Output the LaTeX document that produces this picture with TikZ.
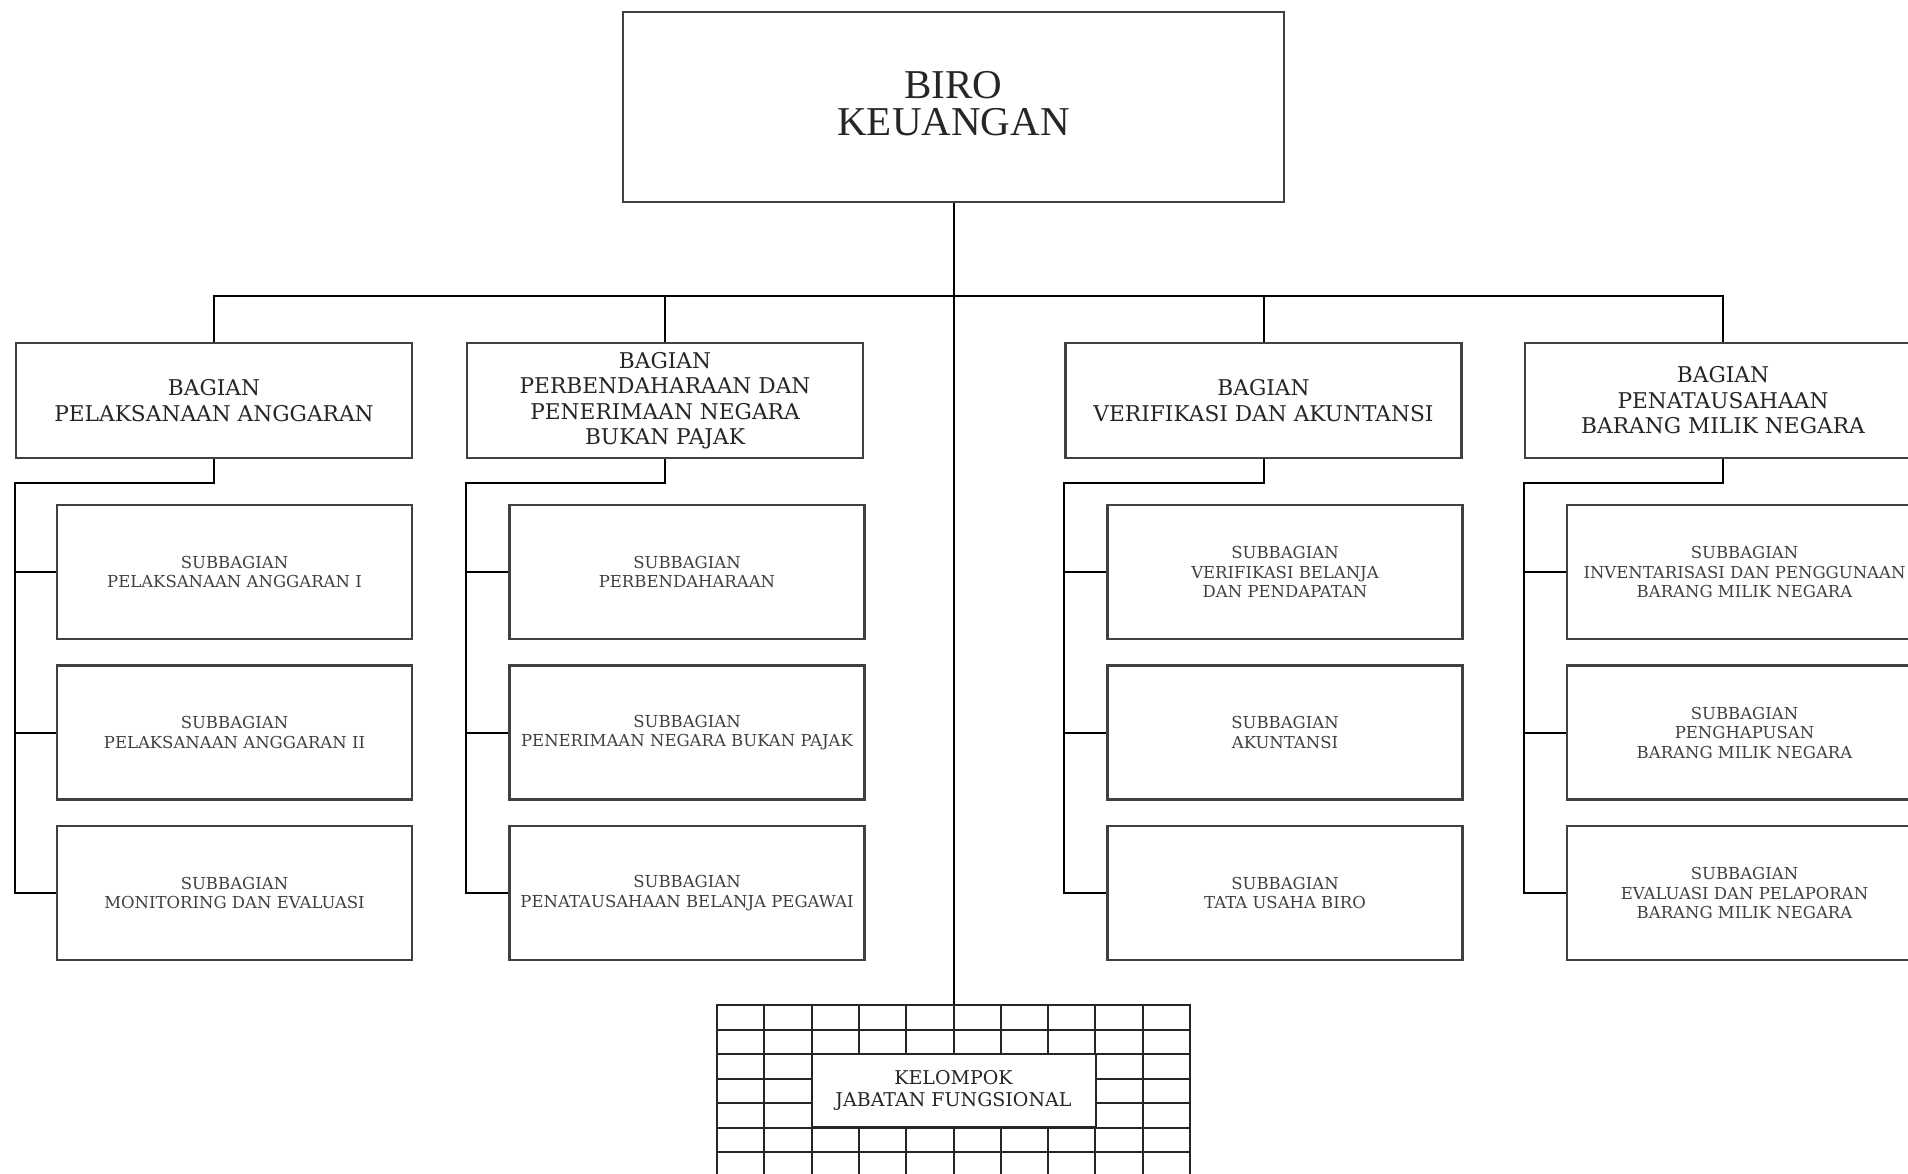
\documentclass[tikz,border=0pt]{standalone}
\usepackage{fontspec}
\setmainfont{DejaVu Serif}
\newfontfamily\titlefont{Liberation Serif}
\begin{document}
\begin{tikzpicture}[x=1pt,y=-1pt,
  box/.style={draw=black!75, line width=2.5pt, fill=white, align=center, inner sep=0pt, text=black!85},
  topbox/.style={box, minimum width=661pt, minimum height=190pt, font=\titlefont\fontsize{41}{37}\selectfont, text depth=8pt},
  bagbox/.style={box, minimum width=396pt, minimum height=115pt, font=\fontsize{21.7}{25.5}\selectfont},
  subbox/.style={box, minimum width=355pt, minimum height=134pt, font=\fontsize{16.5}{19.5}\selectfont, text=black!75},
  conn/.style={draw=black, line width=2pt},
  gridline/.style={draw=black!85, line width=2pt}]
\useasboundingbox (0,0) rectangle (1908,1173);
\fill[white] (0,0) rectangle (1908,1173);
\begin{scope}
\clip (0,0) rectangle (1908,1173);
% top
\node[topbox] (top) at (953.5,107) {BIRO\\KEUANGAN};
% bagian
\node[bagbox] (b1) at (214,400.5) {BAGIAN\\PELAKSANAAN ANGGARAN};
\node[bagbox] (b2) at (665,400.5) {BAGIAN\\PERBENDAHARAAN DAN\\PENERIMAAN NEGARA\\BUKAN PAJAK};
\node[bagbox] (b3) at (1263.5,400.5) {BAGIAN\\VERIFIKASI DAN AKUNTANSI};
\node[bagbox] (b4) at (1723,400.5) {BAGIAN\\PENATAUSAHAAN\\BARANG MILIK NEGARA};
% subbagian col 1
\node[subbox] (s11) at (234.5,572) {SUBBAGIAN\\PELAKSANAAN ANGGARAN I};
\node[subbox] (s12) at (234.5,732.5) {SUBBAGIAN\\PELAKSANAAN ANGGARAN II};
\node[subbox] (s13) at (234.5,893) {SUBBAGIAN\\MONITORING DAN EVALUASI};
% col 2
\node[subbox] (s21) at (687,572) {SUBBAGIAN\\PERBENDAHARAAN};
\node[subbox] (s22) at (687,732.5) {SUBBAGIAN\\PENERIMAAN NEGARA BUKAN PAJAK};
\node[subbox] (s23) at (687,893) {SUBBAGIAN\\PENATAUSAHAAN BELANJA PEGAWAI};
% col 3
\node[subbox] (s31) at (1285,572) {SUBBAGIAN\\VERIFIKASI BELANJA\\DAN PENDAPATAN};
\node[subbox] (s32) at (1285,732.5) {SUBBAGIAN\\AKUNTANSI};
\node[subbox] (s33) at (1285,893) {SUBBAGIAN\\TATA USAHA BIRO};
% col 4
\node[subbox] (s41) at (1744.5,572) {SUBBAGIAN\\INVENTARISASI DAN PENGGUNAAN\\BARANG MILIK NEGARA};
\node[subbox] (s42) at (1744.5,732.5) {SUBBAGIAN\\PENGHAPUSAN\\BARANG MILIK NEGARA};
\node[subbox] (s43) at (1744.5,893) {SUBBAGIAN\\EVALUASI DAN PELAPORAN\\BARANG MILIK NEGARA};
% kelompok grid
\node[draw=black!85, line width=2pt, minimum width=473pt, minimum height=200pt, inner sep=0pt] (kgrid) at (953.5,1105) {};
\foreach \k in {1,...,9} {\draw[gridline] (717+47.3*\k,1005) -- (717+47.3*\k,1205);}
\foreach \j in {1,...,7} {\draw[gridline] (717,1005+24.5*\j) -- (1190,1005+24.5*\j);}
\node[draw=black!85, line width=2pt, fill=white, minimum width=284pt, minimum height=73.5pt, inner sep=0pt, align=center, text=black!85, font=\fontsize{19}{22}\selectfont] (kjf) at (953.5,1090.7) {KELOMPOK\\JABATAN FUNGSIONAL};
% connectors
\coordinate (bus) at (953.5,296);
\draw[conn] (top.south) -- (kgrid.north);
\draw[conn] (b1.north) |- (bus) -| (b4.north);
\draw[conn] (bus) -| (b2.north);
\draw[conn] (bus) -| (b3.north);
\foreach \c in {1,2,3,4} {
  \path (b\c.south west) ++(0,24) coordinate (k\c);
  \draw[conn] (b\c.south) |- (k\c) -- (k\c |- s\c3.west) -- (s\c3.west);
  \draw[conn] (k\c |- s\c1.west) -- (s\c1.west);
  \draw[conn] (k\c |- s\c2.west) -- (s\c2.west);
}
\end{scope}
\end{tikzpicture}
\end{document}
